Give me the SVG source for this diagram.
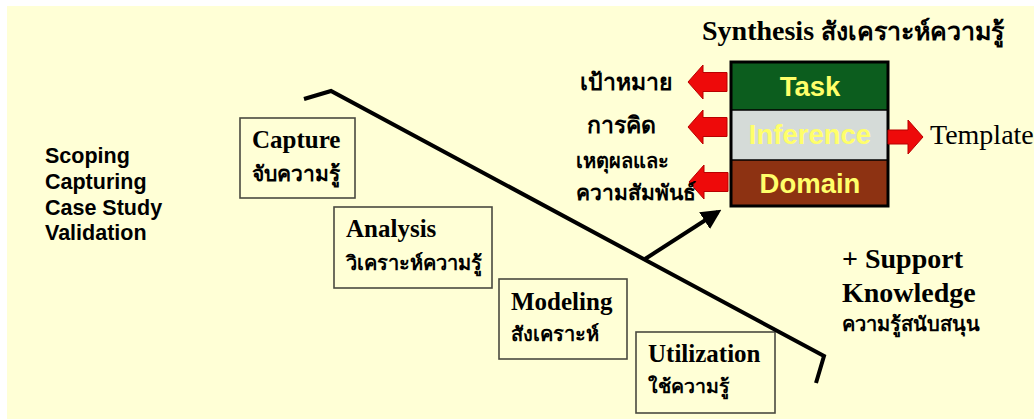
<svg xmlns="http://www.w3.org/2000/svg" width="1034" height="419" viewBox="0 0 1034 419">
  <style>
    .stage { fill: none; stroke: #4a4a40; stroke-width: 1.6; }
    .en { font-family: "Liberation Serif", "DejaVu Serif", serif; font-weight: bold; fill: #000; }
    .th { font-family: "Liberation Serif", "DejaVu Sans", "Noto Sans", sans-serif; font-weight: bold; fill: #000; }
    .side { font-family: "Liberation Sans", Arial, sans-serif; font-weight: bold; font-size: 21.5px; fill: #000; }
    .layer { font-family: "Liberation Sans", Arial, sans-serif; font-weight: bold; font-size: 27.5px; fill: #ffff6a; text-anchor: middle; }
    .red { fill: #ee0a0a; stroke: #b80000; stroke-width: 1; }
    .flow { fill: none; stroke: #000; stroke-width: 4; stroke-linejoin: miter; }
  </style>
  <defs>
    <marker id="head" viewBox="0 0 10 10" refX="8" refY="5" markerWidth="5" markerHeight="5" orient="auto" markerUnits="strokeWidth">
      <path d="M0,0 L10,5 L0,10 z" fill="#000"/>
    </marker>
    <path id="arrowLeft" d="M0,0 L15,-17 L15,-9.5 L39,-9.5 L39,9.5 L15,9.5 L15,17 Z"/>
  </defs>

  <!-- slide background -->
  <rect x="0" y="0" width="1034" height="419" fill="#ffffff"/>
  <rect x="7" y="6" width="1027" height="413" fill="#ffffd6"/>

  <!-- activity list -->
  <g id="activities">
    <text class="side" x="45" y="163">Scoping</text>
    <text class="side" x="45" y="189">Capturing</text>
    <text class="side" x="45" y="215">Case Study</text>
    <text class="side" x="45" y="240">Validation</text>
  </g>

  <!-- process stages -->
  <g id="capture">
    <rect class="stage" x="240" y="118" width="115" height="80"/>
    <text class="en" x="252" y="148" font-size="25">Capture</text>
    <text class="th" x="252" y="181" font-size="21">จับความรู้</text>
  </g>
  <g id="analysis">
    <rect class="stage" x="334" y="207" width="158" height="81"/>
    <text class="en" x="346" y="237" font-size="25">Analysis</text>
    <text class="th" x="346" y="270" font-size="20">วิเคราะห์ความรู้</text>
  </g>
  <g id="modeling">
    <rect class="stage" x="499" y="279" width="128" height="80"/>
    <text class="en" x="511" y="310" font-size="25">Modeling</text>
    <text class="th" x="511" y="341" font-size="20">สังเคราะห์</text>
  </g>
  <g id="utilization">
    <rect class="stage" x="636" y="332" width="139" height="81"/>
    <text class="en" x="648" y="362" font-size="25">Utilization</text>
    <text class="th" x="648" y="393" font-size="19.5">ใช้ความรู้</text>
  </g>

  <!-- synthesis model -->
  <g id="synthesis">
    <text class="th" x="702" y="40" font-size="28">Synthesis <tspan font-size="25">สังเคราะห์ความรู้</tspan></text>
    <rect x="731" y="62" width="157" height="48" fill="#0c5d1e"/>
    <rect x="731" y="110" width="157" height="50" fill="#d5dbd8"/>
    <rect x="731" y="160" width="157" height="46" fill="#8d3212"/>
    <line x1="731" y1="110" x2="888" y2="110" stroke="#000" stroke-width="1.5"/>
    <line x1="731" y1="160" x2="888" y2="160" stroke="#000" stroke-width="1.5"/>
    <rect x="731" y="62" width="157" height="144" fill="none" stroke="#000" stroke-width="3"/>
    <text class="layer" x="810" y="96">Task</text>
    <text class="layer" x="810" y="144">Inference</text>
    <text class="layer" x="810" y="193">Domain</text>
  </g>

  <g id="outputs">
    <use href="#arrowLeft" class="red" x="688" y="82"/>
    <use href="#arrowLeft" class="red" x="688" y="127"/>
    <use href="#arrowLeft" class="red" x="689" y="182"/>
    <path class="red" d="M888,130 L908,130 L908,120 L923,137 L908,154 L908,144 L888,144 Z"/>
    <text class="th" x="580" y="90" font-size="23">เป้าหมาย</text>
    <text class="th" x="587" y="133" font-size="23">การคิด</text>
    <text class="th" x="576" y="168" font-size="20">เหตุผลและ</text>
    <text class="th" x="576" y="200" font-size="21">ความสัมพันธ์</text>
    <text x="930" y="144" font-family="'Liberation Serif', 'Times New Roman', serif" font-size="28" fill="#000">Template</text>
  </g>

  <g id="support">
    <text class="en" x="842" y="268" font-size="28">+ Support</text>
    <text class="en" x="842" y="302" font-size="28">Knowledge</text>
    <text class="th" x="842" y="331" font-size="20">ความรู้สนับสนุน</text>
  </g>

  <!-- connectors -->
  <g id="connectors">
    <polyline class="flow" points="304,99 331,91 824,356 816,383"/>
    <line class="flow" x1="645" y1="259" x2="718" y2="212" marker-end="url(#head)"/>
  </g>
</svg>
